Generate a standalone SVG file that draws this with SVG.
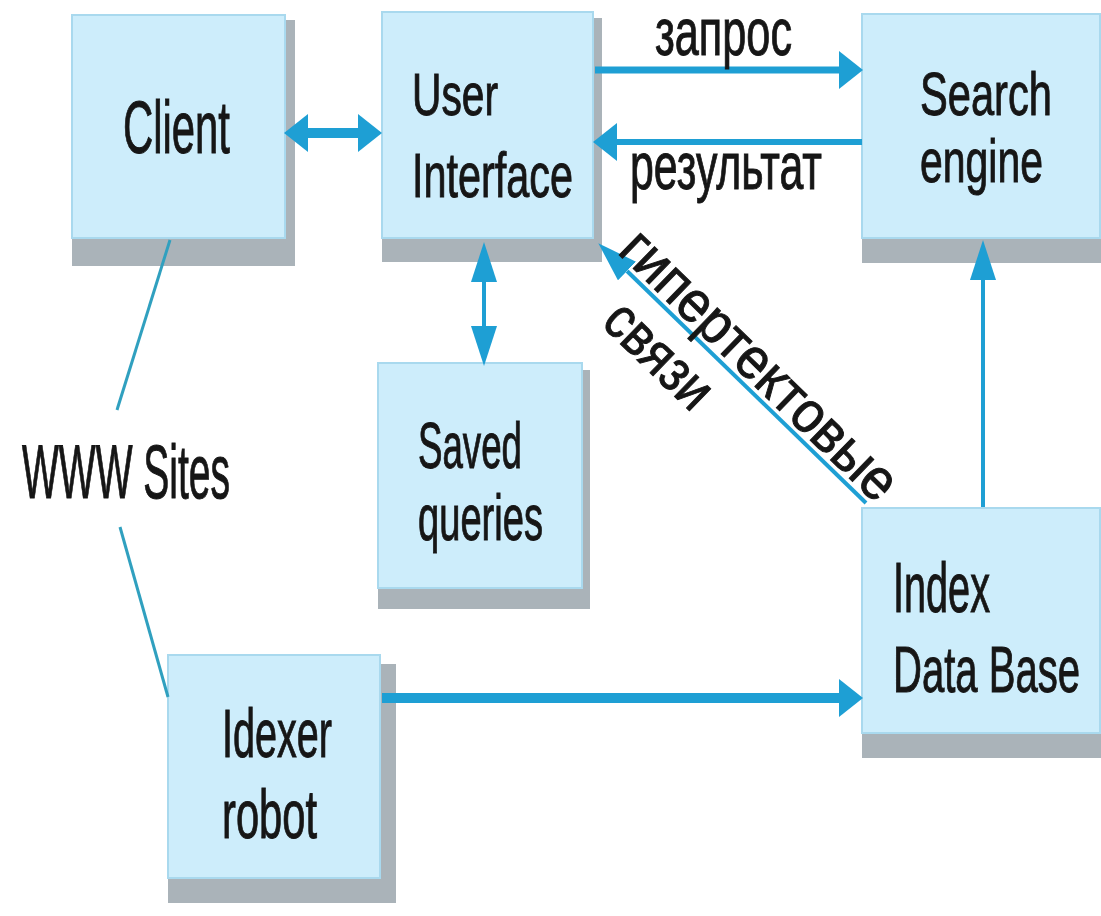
<svg xmlns="http://www.w3.org/2000/svg" width="1101" height="916" viewBox="0 0 1101 916">
<defs>
<style>
.box{fill:#cdedfb;stroke:#a9d9ee;stroke-width:2}
.sh{fill:#aab3b9}
.t{font-family:"Liberation Sans",Arial,sans-serif;fill:#161616;stroke:#161616;stroke-width:1}
.thick{stroke:#1e9fd4;fill:none}
.thin{stroke:#1e9fd4;stroke-width:4;fill:none}
.www{stroke:#30a0bf;stroke-width:3;fill:none}
</style>
<marker id="hb" markerUnits="userSpaceOnUse" viewBox="0 0 24 38" markerWidth="24" markerHeight="38" refX="0" refY="19" orient="auto-start-reverse"><path d="M0,0 L24,19 L0,38 z" fill="#1e9fd4"/></marker>
<marker id="hn" markerUnits="userSpaceOnUse" viewBox="0 0 40 26" markerWidth="40" markerHeight="26" refX="0" refY="13" orient="auto-start-reverse"><path d="M0,0 L40,13 L0,26 z" fill="#1e9fd4"/></marker>
</defs>
<rect width="1101" height="916" fill="#ffffff"/>

<g id="client">
<rect class="sh" x="72" y="238" width="223" height="28"/>
<rect class="sh" x="285" y="20" width="10" height="246"/>
<rect class="box" x="72" y="15" width="213" height="223"/>
<text class="t" x="123" y="153" font-size="74" textLength="107" lengthAdjust="spacingAndGlyphs">Client</text>
</g>

<g id="user-interface">
<rect class="sh" x="382" y="238" width="220" height="24"/>
<rect class="sh" x="593" y="18" width="9" height="244"/>
<rect class="box" x="382" y="12" width="211" height="226"/>
<text class="t" x="412" y="115" font-size="59" textLength="86" lengthAdjust="spacingAndGlyphs">User</text>
<text class="t" x="412" y="197" font-size="63" textLength="161" lengthAdjust="spacingAndGlyphs">Interface</text>
</g>

<g id="search-engine">
<rect class="sh" x="862" y="238" width="239" height="25"/>
<rect class="box" x="862" y="14" width="238" height="224"/>
<text class="t" x="920" y="115" font-size="62" textLength="132" lengthAdjust="spacingAndGlyphs">Search</text>
<text class="t" x="920" y="182" font-size="62" textLength="123" lengthAdjust="spacingAndGlyphs">engine</text>
</g>

<g id="saved-queries">
<rect class="sh" x="378" y="588" width="212" height="21"/>
<rect class="sh" x="582" y="370" width="8" height="239"/>
<rect class="box" x="378" y="363" width="204" height="225"/>
<text class="t" x="418" y="468" font-size="64" textLength="104" lengthAdjust="spacingAndGlyphs">Saved</text>
<text class="t" x="418" y="540" font-size="64" textLength="125" lengthAdjust="spacingAndGlyphs">queries</text>
</g>

<g id="index-data-base">
<rect class="sh" x="862" y="733" width="239" height="25"/>
<rect class="box" x="862" y="508" width="238" height="225"/>
<text class="t" x="893" y="612" font-size="70" textLength="97" lengthAdjust="spacingAndGlyphs">Index</text>
<text class="t" x="893" y="692" font-size="64" textLength="187" lengthAdjust="spacingAndGlyphs">Data Base</text>
</g>

<g id="idexer-robot">
<rect class="sh" x="168" y="878" width="228" height="25"/>
<rect class="sh" x="380" y="664" width="16" height="239"/>
<rect class="box" x="168" y="655" width="212" height="223"/>
<text class="t" x="222" y="757" font-size="68" textLength="110" lengthAdjust="spacingAndGlyphs">Idexer</text>
<text class="t" x="222" y="838" font-size="68" textLength="95" lengthAdjust="spacingAndGlyphs">robot</text>
</g>

<g id="www-sites">
<text class="t" x="22" y="498" font-size="76" textLength="208" lengthAdjust="spacingAndGlyphs">WWW Sites</text>
</g>

<g id="connectors">
<line class="thick" stroke-width="10" x1="308" y1="133" x2="358" y2="133" marker-start="url(#hb)" marker-end="url(#hb)"/>
<line class="thick" stroke-width="7" x1="595" y1="70" x2="839" y2="70" marker-end="url(#hb)"/>
<line class="thick" stroke-width="6" x1="862" y1="142" x2="617" y2="142" marker-end="url(#hb)"/>
<line class="thick" stroke-width="10" x1="382" y1="698" x2="839" y2="698" marker-end="url(#hb)"/>
<line class="thin" x1="484" y1="282" x2="484" y2="326" marker-start="url(#hn)" marker-end="url(#hn)"/>
<line class="thin" stroke-width="3.5" x1="983" y1="507" x2="983" y2="280" marker-end="url(#hn)"/>
<line class="thin" x1="866" y1="503" x2="627" y2="271" marker-end="url(#hn)"/>
<line class="www" x1="170" y1="240" x2="117" y2="410"/>
<line class="www" x1="120" y1="527" x2="168" y2="697"/>
<text class="t" x="655" y="55" font-size="66" textLength="137" lengthAdjust="spacingAndGlyphs">запрос</text>
<text class="t" x="630" y="189" font-size="66" textLength="192" lengthAdjust="spacingAndGlyphs">результат</text>
<g transform="translate(598,243) rotate(44.1)">
<text class="t" x="20" y="-6" font-size="58" textLength="362" lengthAdjust="spacingAndGlyphs">гипертектовые</text>
<text class="t" x="58" y="57" font-size="58" textLength="128" lengthAdjust="spacingAndGlyphs">связи</text>
</g>
</g>
</svg>
